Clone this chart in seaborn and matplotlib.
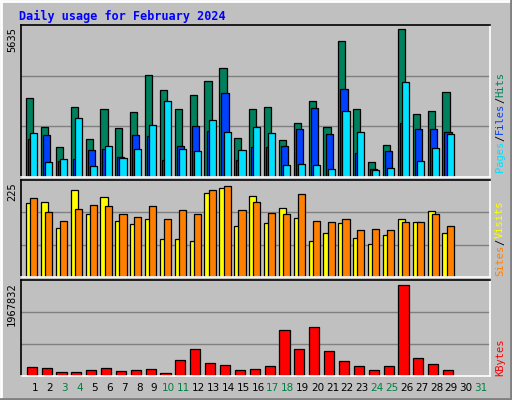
import matplotlib
matplotlib.use("Agg")
import matplotlib.pyplot as plt
import seaborn as sns
import pandas as pd
import numpy as np

# ---- data ----
days = list(range(1, 30))
hits = [3022, 1907, 1127, 2687, 1461, 2613, 1870, 2464, 3876, 3319, 2613, 3133, 3653, 4174, 1499,
        2613, 2687, 1424, 2056, 2910, 1907, 5177, 2613, 570, 1238, 5635, 2390, 2539, 3245]
files = [1461, 1610, 607, 681, 1016, 1053, 755, 1610, 1573, 644, 1201, 1944, 1759, 3208, 644,
         1127, 1164, 1201, 1833, 2650, 1647, 3356, 904, 310, 978, 2056, 1833, 1833, 1721]
pages = [1684, 570, 681, 2242, 421, 1201, 718, 1053, 1982, 2910, 1053, 978, 2167, 1721, 1016,
         1907, 1684, 458, 495, 458, 310, 2502, 1721, 272, 347, 3616, 607, 1090, 1647]
visits = [175, 177, 117, 206, 149, 189, 133, 126, 138, 89, 89, 86, 199, 210, 121,
          192, 128, 163, 140, 84, 105, 128, 93, 79, 100, 138, 131, 156, 105]
sites = [187, 154, 133, 161, 170, 168, 149, 142, 168, 138, 159, 149, 206, 215, 159,
         177, 152, 149, 196, 133, 131, 138, 112, 114, 112, 131, 131, 149, 121]
kbytes = [200000, 179000, 93000, 93000, 136000, 179000, 114000, 136000, 157000, 72000, 351000,
          587000, 286000, 243000, 136000, 157000, 222000, 995000, 587000, 1059000, 544000,
          329000, 222000, 136000, 222000, 1967832, 394000, 265000, 136000]
weekend = [3, 4, 10, 11, 17, 18, 24, 25, 31]

MAX_TOP, MAX_MID, MAX_BOT = 5635, 225, 1967832

sns.set_style("white")
plt.rcParams['font.family'] = ['DejaVu Sans Mono', 'DejaVu Sans']

W, H = 512, 400
fig = plt.figure(figsize=(W / 100, H / 100), dpi=100)
fig.patch.set_facecolor("#c0c0c0")

# 3D border
fig.add_artist(plt.Line2D([0, 1], [1 - 1/H, 1 - 1/H], color="white", lw=2))
fig.add_artist(plt.Line2D([1/W, 1/W], [0, 1], color="white", lw=2))
fig.add_artist(plt.Line2D([0, 1], [1/H, 1/H], color="#808080", lw=2))
fig.add_artist(plt.Line2D([1 - 1/W, 1 - 1/W], [0, 1], color="#808080", lw=2))

fig.text(19 / W, 1 - 16 / H, "Daily usage for February 2024", color="#0000ff",
         fontsize=8.5, fontweight="bold", va="center", ha="left")

XL = (0.06, 31.6)


def make_ax(top, bottom):
    ax = fig.add_axes([21 / W, 1 - bottom / H, (490 - 21) / W, (bottom - top) / H])
    ax.set_facecolor("#c0c0c0")
    ax.set_xlim(*XL)
    ax.set_xticks([])
    ax.set_yticks([])
    for s in ["top", "left"]:
        ax.spines[s].set_color("black")
    for s in ["bottom", "right"]:
        ax.spines[s].set_color("white")
    for sp in ax.spines.values():
        sp.set_linewidth(1.2)
    return ax


d = np.array(days)
bw = 0.48
ek = dict(edgecolor="black", linewidth=0.9)

# top panel
ax1 = make_ax(25, 177)
ax1.set_ylim(0, MAX_TOP * 1.03)
for g in (1 / 3, 2 / 3):
    ax1.axhline(MAX_TOP * 1.03 * g, color="#808080", lw=1, zorder=0)
ax1.bar(d - 0.36, hits, width=bw, color="#00805c", **ek)
ax1.bar(d - 0.22, files, width=bw, color="#0040ff", **ek)
ax1.bar(d - 0.08, pages, width=bw, color="#00e0ff", **ek)

# middle panel
ax2 = make_ax(180, 277)
ax2.set_ylim(0, MAX_MID * 1.02)
for g in (1 / 3, 2 / 3):
    ax2.axhline(MAX_MID * 1.02 * g, color="#808080", lw=1, zorder=0)
ax2.bar(d - 0.36, visits, width=bw, color="#ffff00", **ek)
ax2.bar(d - 0.08, sites, width=bw, color="#ff8000", **ek)

# bottom panel (seaborn barplot)
ax3 = make_ax(280, 376)
df = pd.DataFrame({"day": d, "kb": kbytes})
sns.barplot(data=df, x="day", y="kb", native_scale=True, color="#ff0000",
            saturation=1, width=0.68, edgecolor="black", linewidth=0.9, ax=ax3)
ax3.set_xlim(XL[0] + 0.22, XL[1] + 0.22)
ax3.set_ylim(0, MAX_BOT * 1.06)
for g in (1 / 3, 2 / 3):
    ax3.axhline(MAX_BOT * 1.06 * g, color="#808080", lw=1, zorder=0)
ax3.set_xticks([])
ax3.set_xlabel("")
ax3.set_ylabel("")

# left max labels
for txt, top in (("5635", 25), ("225", 180), ("1967832", 280)):
    fig.text(12 / W, 1 - (top + 2) / H, txt, rotation=90, fontsize=7.5,
             va="top", ha="center", color="black")

# right legend labels (bottom-up)
def right_label(parts, bottom):
    y = 1 - bottom / H
    for text, col in parts:
        t = fig.text(500 / W, y, text, rotation=90, fontsize=7.5, color=col,
                     va="bottom", ha="center")
        fig.canvas.draw()
        bb = t.get_window_extent()
        y += bb.height / H


right_label([("Pages", "#00e0ff"), ("/", "black"), ("Files", "#0040ff"),
             ("/", "black"), ("Hits", "#00805c")], 172)
right_label([("Sites", "#ff8000"), ("/", "black"), ("Visits", "#ffff00")], 276)
right_label([("KBytes", "#ff0000")], 376)

# day labels
for day in range(1, 32):
    x = 21 + (day - XL[0]) / (XL[1] - XL[0]) * (490 - 21)
    fig.text(x / W, 1 - 388 / H, str(day), fontsize=7.5, ha="center", va="center",
             color="#008040" if day in weekend else "black",
             family=["DejaVu Sans"])

fig.savefig("out.png", dpi=100, facecolor=fig.get_facecolor())
